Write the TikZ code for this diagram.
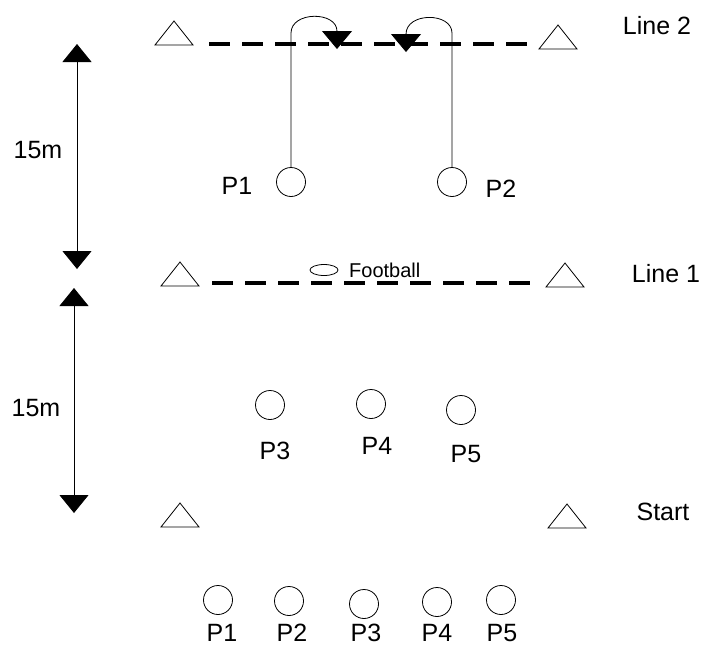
\documentclass[tikz,border=0pt]{standalone}
\usepackage{fontspec}
\setmainfont{Liberation Sans}
\usetikzlibrary{arrows.meta,shapes.geometric}
\tikzset{
  joueur/.style={draw,circle,inner sep=0pt,minimum size=29pt,line width=0.8pt},
  lbl/.style={inner sep=0pt,font=\fontsize{25}{30}\selectfont},
  ligne/.style={line width=4pt,dash pattern=on 21pt off 12pt},
  plot/.pic={\draw[line width=0.8pt] (-19,12) -- (0,-12) -- (19,12) -- cycle;},
  fleche/.style={line width=0.8pt,{Triangle[width=29pt,length=18pt]}-{Triangle[width=29pt,length=18pt]}},
  course/.style={line width=0.8pt,-{Triangle[width=30pt,length=18pt]}},
}
\begin{document}
\begin{tikzpicture}[x=1pt,y=-1pt]
		\useasboundingbox (0,0) rectangle (702,649);
		%Plots
		\pic at (174,33) {plot};
		\pic at (558,37) {plot};
		\pic at (180,274) {plot};
		\pic at (565,275) {plot};
		\pic at (180,515) {plot};
		\pic at (567,516) {plot};
		%Lignes
		\coordinate (L2a) at (209,44);
		\coordinate (L2b) at (532,44);
		\coordinate (L1a) at (212,283);
		\coordinate (L1b) at (533,283);
		\draw[ligne] (L2a) -- (L2b);
		\draw[ligne] (L1a) -- (L1b);
		\node[lbl] (T2) at (657,26) {Line 2};
		\node[lbl] (T1) at (666,274) {Line 1};
		\node[lbl] (T0) at (663,512) {Start};
		%Ballon
		\node[draw,ellipse,inner sep=0pt,minimum width=28pt,minimum height=11pt,line width=0.8pt] (B) at (324,270) {};
		\node[lbl,font=\fontsize{20}{24}\selectfont,anchor=west] (TB) at (349,270) {Football};
		%Distances
		\coordinate (D1a) at (77,44);
		\coordinate (D1b) at (77,269);
		\coordinate (D2a) at (74,288);
		\coordinate (D2b) at (74,513);
		\draw[fleche] (D1a) -- (D1b);
		\draw[fleche] (D2a) -- (D2b);
		\node[lbl] (M1) at (38,150) {15m};
		\node[lbl] (M2) at (36,408) {15m};
		%Joueurs vers la ligne 2
		\node[joueur] (H1) at (291,182) {};
		\node[joueur] (H2) at (452,182) {};
		\node[lbl] (tH1) at (237,186) {P1};
		\node[lbl] (tH2) at (501,189) {P2};
		\coordinate (A1) at (337,49);
		\coordinate (A2) at (406,52);
		\draw[course] (H1.north) -- ++(0,-134) .. controls (291,11) and (337,11) .. (A1);
		\draw[course] (H2.north) -- ++(0,-134) .. controls (452,12) and (406,12) .. (A2);
		%Joueurs au milieu
		\node[joueur] (J3) at (270,405) {};
		\node[joueur] (J4) at (371,404) {};
		\node[joueur] (J5) at (461,410) {};
		\node[lbl] (tJ3) at (275,451) {P3};
		\node[lbl] (tJ4) at (377,446) {P4};
		\node[lbl] (tJ5) at (466,454) {P5};
		%Joueurs au depart
		\node[joueur] (S1) at (218,600) {};
		\node[joueur] (S2) at (289,601) {};
		\node[joueur] (S3) at (364,604) {};
		\node[joueur] (S4) at (437,602) {};
		\node[joueur] (S5) at (501,600) {};
		\node[lbl] (tS1) at (222,633) {P1};
		\node[lbl] (tS2) at (292,633) {P2};
		\node[lbl] (tS3) at (366,633) {P3};
		\node[lbl] (tS4) at (437,633) {P4};
		\node[lbl] (tS5) at (502,633) {P5};
	\end{tikzpicture}
\end{document}
